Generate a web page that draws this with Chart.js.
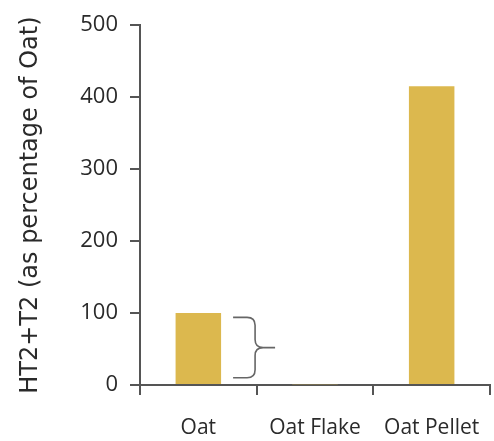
<!DOCTYPE html>
<html>
<head>
<meta charset="utf-8">
<script src="https://cdn.jsdelivr.net/npm/chart.js@4"></script>
<style>
  html, body { margin: 0; padding: 0; background: #fff; }
  #wrap { width: 494px; height: 441px; }
</style>
</head>
<body>
<div id="wrap"><canvas id="canva"></canvas></div>
<script>
var categories = ["Oat", "Oat Flake", "Oat Pellet"];
var values = [100, 1, 415];
var yTicks = [0, 100, 200, 300, 400, 500];
var braceRange = [10, 94]; // brace beside the Oat bar, in data units

var axisColor = "#555555";
var barColor = "#dcb84e";

// curly brace drawn next to the first bar, placed through the scales
var bracePlugin = {
  id: 'brace',
  afterDatasetsDraw: function(chart) {
    var ctx = chart.ctx;
    var y = chart.scales.y;
    var bar = chart.getDatasetMeta(0).data[0];
    var x0 = bar.x + bar.width / 2 + 12;
    var yTop = y.getPixelForValue(braceRange[1]);
    var yBot = y.getPixelForValue(braceRange[0]);
    var yMid = (yTop + yBot) / 2;
    var xs = x0 + 22;
    var r = 8;
    ctx.save();
    ctx.strokeStyle = "#666";
    ctx.lineWidth = 1.6;
    ctx.beginPath();
    ctx.moveTo(x0, yTop);
    ctx.lineTo(xs - r, yTop);
    ctx.quadraticCurveTo(xs, yTop, xs, yTop + r);
    ctx.lineTo(xs, yMid - r);
    ctx.quadraticCurveTo(xs, yMid, xs + r, yMid);
    ctx.quadraticCurveTo(xs, yMid, xs, yMid + r);
    ctx.lineTo(xs, yBot - r);
    ctx.quadraticCurveTo(xs, yBot, xs - r, yBot);
    ctx.lineTo(x0, yBot);
    ctx.moveTo(xs + r, yMid);
    ctx.lineTo(xs + 20, yMid);
    ctx.stroke();
    ctx.restore();
  }
};

var canva = document.getElementById("canva");
var ctx = canva.getContext('2d');
var config = {
  type: 'bar',
  data: {
    labels: categories,
    datasets: [{
      data: values,
      backgroundColor: barColor,
      categoryPercentage: 1,
      barPercentage: 0.39
    }]
  },
  options: {
    responsive: true,
    maintainAspectRatio: false,
    animation: false,
    layout: { padding: { top: 22, right: 4, left: 0, bottom: 0 } },
    plugins: {
      legend: { display: false },
      tooltip: { enabled: false }
    },
    scales: {
      x: {
        grid: {
          offset: true,
          drawOnChartArea: false,
          tickLength: 10,
          color: axisColor,
          lineWidth: 2
        },
        border: { color: axisColor, width: 2 },
        ticks: {
          color: "#2a2a2a",
          padding: 20,
          font: { family: "Open Sans", size: 21 }
        },
        afterFit: function(s) {
          s.height = 56;
          s.paddingLeft = 0;
          s.paddingRight = 0;
        }
      },
      y: {
        min: yTicks[0],
        max: yTicks[yTicks.length - 1],
        grid: {
          drawOnChartArea: false,
          drawTicks: true,
          tickLength: 10,
          color: axisColor,
          lineWidth: 2
        },
        border: { color: axisColor, width: 2 },
        ticks: {
          stepSize: yTicks[1] - yTicks[0],
          color: "#2a2a2a",
          padding: 12,
          font: { family: "Open Sans", size: 22 }
        },
        title: {
          display: true,
          text: "HT2+T2 (as percentage of Oat)",
          color: "#2a2a2a",
          padding: { top: 16, bottom: 0 },
          font: { family: "DejaVu Sans", size: 24 }
        },
        afterFit: function(s) { s.width = 140; }
      }
    }
  },
  plugins: [bracePlugin]
};
new Chart(ctx, config);
</script>
</body>
</html>
